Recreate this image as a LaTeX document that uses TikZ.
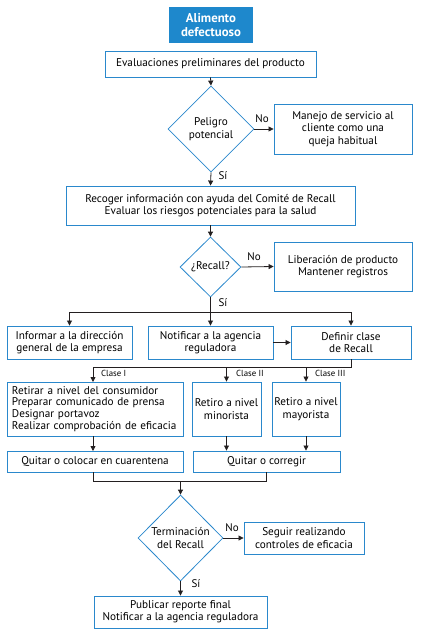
\documentclass[tikz,border=0pt]{standalone}
\usepackage{fontspec}
\setmainfont{PT Sans}
\usetikzlibrary{shapes.geometric,arrows.meta}
\definecolor{bblue}{RGB}{42,136,204}
\definecolor{fblue}{RGB}{30,136,204}
\definecolor{lnk}{RGB}{35,31,32}
\tikzset{
  box/.style={draw=bblue,line width=0.9pt,align=center,inner sep=0pt,font=\fontsize{11.2}{12.4}\selectfont},
  dia/.style={diamond,aspect=1,draw=bblue,line width=0.8pt,align=center,inner sep=0pt,font=\fontsize{11.2}{12.4}\selectfont},
  arr/.style={draw=lnk,line width=0.8pt,-{Triangle[length=5pt,width=5pt]}},
  ln/.style={draw=lnk,line width=0.8pt},
  lab/.style={inner sep=0pt,font=\fontsize{11}{12}\selectfont},
  clab/.style={inner sep=0pt,anchor=west,font=\fontsize{8.8}{9}\selectfont},
}
\begin{document}
\begin{tikzpicture}[x=1pt,y=-1pt]
\useasboundingbox (0,0) rectangle (423,643);
\node[box,fill=fblue,draw=none,text=white,minimum width=84pt,minimum height=36pt,font=\fontsize{12.8}{13.6}\selectfont\bfseries] (top) at (211,25) {Alimento\\defectuoso};
\node[box,minimum width=211pt,minimum height=26pt] (eval) at (210.5,64) {Evaluaciones preliminares del producto};
\node[dia,minimum width=86pt,minimum height=86pt] (d1) at (211,129) {Peligro\\potencial};
\node[box,minimum width=138pt,minimum height=50pt] (manejo) at (343,129) {Manejo de servicio al\\cliente como una\\queja habitual};
\node[box,minimum width=289pt,minimum height=39pt] (recoger) at (210.5,205.5) {Recoger información con ayuda del Comité de Recall\\Evaluar los riesgos potenciales para la salud};
\node[dia,minimum width=61pt,minimum height=60pt] (d2) at (210.5,267) {¿Recall?};
\node[box,minimum width=138pt,minimum height=49pt] (liber) at (343,266.5) {Liberación de producto\\Mantener registros};
\node[box,minimum width=125pt,minimum height=33pt] (informar) at (69.5,342.5) {Informar a la dirección\\general de la empresa};
\node[box,minimum width=125pt,minimum height=33pt] (notificar) at (210.5,342.5) {Notificar a la agencia\\reguladora};
\node[box,minimum width=120pt,minimum height=33pt] (definir) at (351,342.5) {Definir clase\\de Recall};
\node[box,minimum width=176pt,minimum height=54pt,align=left,text width=166pt,font=\fontsize{11.2}{11.8}\selectfont] (retirar) at (95,409) {Retirar a nivel del consumidor\\Preparar comunicado de prensa\\Designar portavoz\\Realizar comprobación de eficacia};
\node[box,minimum width=69pt,minimum height=54pt] (minor) at (226.5,409) {Retiro a nivel\\minorista};
\node[box,minimum width=68pt,minimum height=54pt] (mayor) at (306,409) {Retiro a nivel\\mayorista};
\node[box,minimum width=176pt,minimum height=21pt] (quitar1) at (95,461.5) {Quitar o colocar en cuarentena};
\node[box,minimum width=147pt,minimum height=21pt] (quitar2) at (266.5,461.5) {Quitar o corregir};
\node[dia,minimum width=85pt,minimum height=86pt] (d3) at (180.5,538) {Terminación\\del Recall};
\node[box,minimum width=120pt,minimum height=32pt] (seguir) at (304,538) {Seguir realizando\\controles de eficacia};
\node[box,minimum width=173pt,minimum height=32pt] (publicar) at (180.5,612) {Publicar reporte final\\Notificar a la agencia reguladora};
% connectors
\draw[arr] (eval.south) -- (d1.north);
\draw[arr] (d1.east) -- (manejo.west);
\node[lab] (no1) at (262,119) {No};
\draw[arr] (d1.south) -- (recoger.north);
\node[lab] (si1) at (223,176) {Sí};
\draw[arr] (recoger.south) -- (d2.north);
\draw[arr] (d2.east) -- (liber.west);
\node[lab] (no2) at (254,257) {No};
\node[lab] (si2) at (223,303) {Sí};
\coordinate (j1) at (210.5,312);
\draw[ln] (d2.south) -- (j1);
\draw[ln] (informar.north |- j1) -- (definir.north |- j1);
\draw[arr] (informar.north |- j1) -- (informar.north);
\draw[arr] (j1) -- (notificar.north);
\draw[arr] (definir.north |- j1) -- (definir.north);
\draw[arr] (notificar.east) -- (definir.west);
\coordinate (j2) at (351,367);
\draw[ln] (definir.south) -- (j2) -- (93,367);
\draw[arr] (93,367) -- (93,382);
\draw[arr] (minor.north |- j2) -- (minor.north);
\draw[arr] (mayor.north |- j2) -- (mayor.north);
\node[clab] (c1) at (101,373) {Clase I};
\node[clab] (c2) at (236,373) {Clase II};
\node[clab] (c3) at (315,373) {Clase III};
\draw[arr] (93,436) -- (93,451);
\draw[arr] (minor.south) -- (minor.south |- quitar2.north);
\draw[arr] (mayor.south) -- (mayor.south |- quitar2.north);
\coordinate (j3) at (180.5,481);
\draw[ln] (93,472) -- (93,481) -- (quitar2.south |- j3) -- (quitar2.south);
\draw[arr] (j3) -- (d3.north);
\draw[arr] (d3.east) -- (seguir.west);
\node[lab] (no3) at (232,528) {No};
\draw[arr] (d3.south) -- (publicar.north);
\node[lab] (si3) at (196,584) {Sí};
\end{tikzpicture}
\end{document}
